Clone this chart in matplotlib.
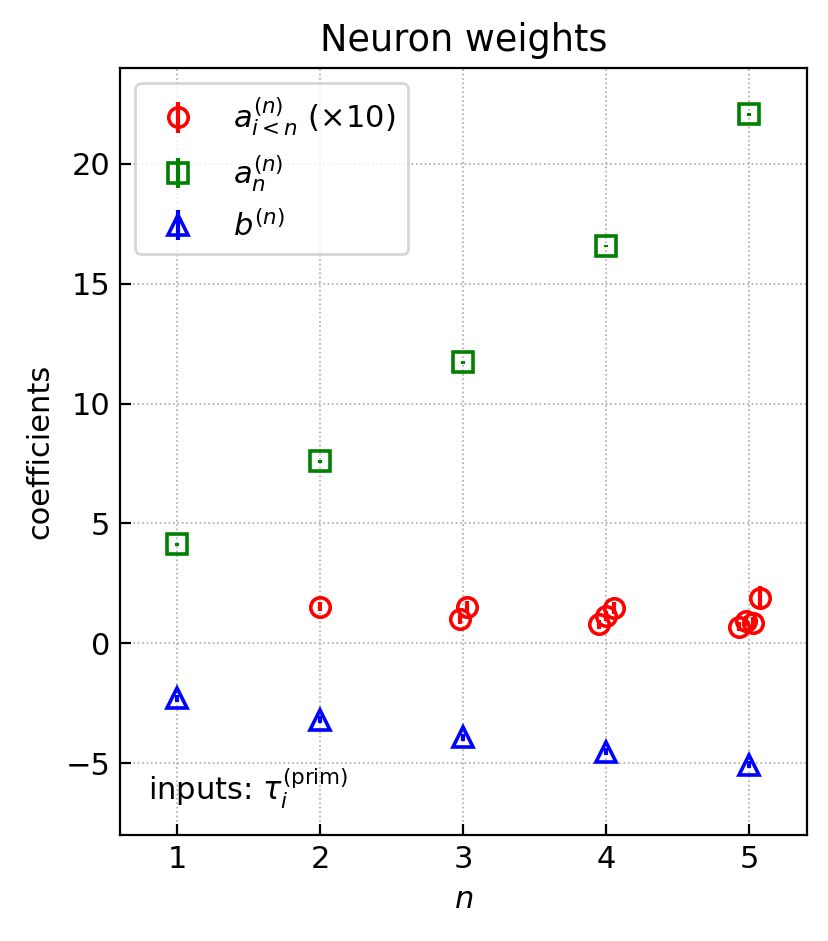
import matplotlib
matplotlib.use("Agg")
import matplotlib.pyplot as plt
import numpy as np

plt.rcParams['font.size'] = 11

n_vals = [1, 2, 3, 4, 5]
# a_{i<n}^{(n)} (x10), grouped by n (n=2..5)
a_lt_n = {2: [1.53], 3: [1.00, 1.53], 4: [0.79, 1.14, 1.46], 5: [0.70, 0.93, 0.86, 1.91]}
a_lt_n_err = {2: [0.2], 3: [0.2, 0.25], 4: [0.2, 0.2, 0.25], 5: [0.2, 0.2, 0.25, 0.48]}
a_n = [4.13, 7.60, 11.73, 16.58, 22.07]
a_n_err = [0.06, 0.06, 0.06, 0.06, 0.06]
b_n = [-2.30, -3.18, -3.92, -4.53, -5.06]
b_n_err = [0.15, 0.15, 0.15, 0.15, 0.15]

fig = plt.figure(figsize=(8.29/2, 9.41/2), dpi=200)
ax = fig.add_axes([0.145, 0.1126, 0.828, 0.815])

spacing = 0.05
first = True
for n, vals in a_lt_n.items():
    k = len(vals)
    xs = [n + (i - (k - 1) / 2) * spacing for i in range(k)]
    ax.errorbar(xs, vals, yerr=a_lt_n_err[n], fmt='o', color='red', mfc='none',
                ms=7, mew=1.3, elinewidth=1.5, capsize=0,
                label=r'$a_{i<n}^{(n)}$ ($\times10$)' if first else None, zorder=3)
    first = False

ax.errorbar(n_vals, a_n, yerr=a_n_err, fmt='s', color='green', mfc='none',
            ms=7, mew=1.3, elinewidth=1.5, capsize=0, label=r'$a_n^{(n)}$', zorder=3)
ax.errorbar(n_vals, b_n, yerr=b_n_err, fmt='^', color='blue', mfc='none',
            ms=7, mew=1.3, elinewidth=1.5, capsize=0, label=r'$b^{(n)}$', zorder=3)

ax.set_xlim(0.6, 5.4)
ax.set_ylim(-8, 24)
ax.set_xticks(n_vals)
ax.set_yticks([-5, 0, 5, 10, 15, 20])
ax.tick_params(direction='in', length=4)
ax.grid(True, linestyle=':', color='#aaaaaa', linewidth=0.6)
ax.set_axisbelow(True)
ax.set_xlabel(r'$n$')
ax.set_ylabel('coefficients')
ax.set_title('Neuron weights', fontsize=13.2)
ax.text(0.04, 0.045, r'inputs: $\tau_i^{\rm (prim)}$', transform=ax.transAxes)
ax.legend(loc='upper left')

fig.savefig('out.png', dpi=200)
